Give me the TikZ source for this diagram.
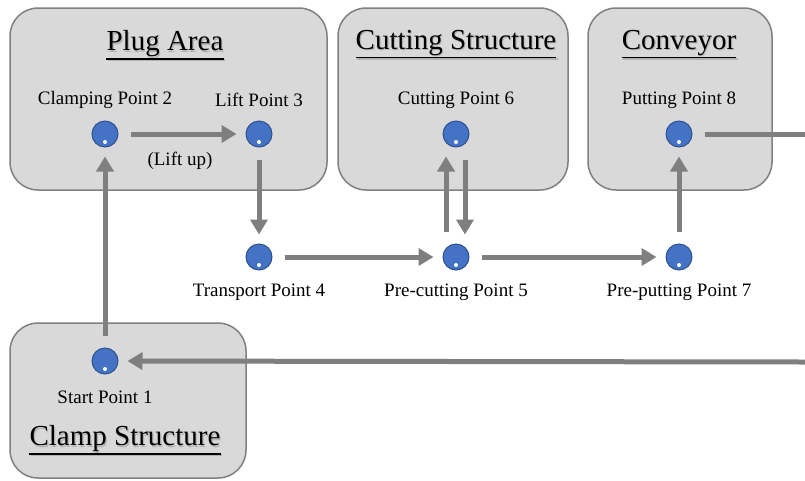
\documentclass[tikz,border=0pt]{standalone}
\usepackage{fontspec}
\setmainfont{Liberation Serif}
\usetikzlibrary{arrows.meta}
\definecolor{boxfill}{HTML}{D9D9D9}
\definecolor{boxline}{HTML}{808080}
\definecolor{flowgray}{HTML}{7F7F7F}
\definecolor{dotblue}{HTML}{4472C4}
\definecolor{dotedge}{HTML}{2F528F}
\newcommand{\areatitle}[3]{%
  \node[text=black!30] at ([xshift=1.2pt,yshift=-1.2pt]#2) {#3};
  \node (#1) at (#2) {#3};
  \draw[black!30, line width=1.8pt] ([xshift=1.2pt,yshift=-9.2pt]#1.base west) -- ([xshift=1.2pt,yshift=-9.2pt]#1.base east);
  \draw[black, line width=1.8pt] ([yshift=-8pt]#1.base west) -- ([yshift=-8pt]#1.base east);}
\begin{document}
\begin{tikzpicture}[x=1pt, y=-1pt,
    area/.style={draw=boxline, line width=1.5pt, fill=boxfill, rounded corners=28pt},
    station/.style={circle, draw=dotedge, line width=1pt, fill=dotblue, minimum size=26pt, inner sep=0pt,
      path picture={\fill[white] ([yshift=-8pt]path picture bounding box.center) circle (2pt);}},
    flow/.style={draw=flowgray, line width=5pt, -{Triangle[length=15pt,width=17pt]}, shorten >=9pt, shorten <=12pt},
    every node/.style={font=\fontsize{19}{21}\selectfont},
    title/.style={font=\fontsize{29}{31}\selectfont, inner xsep=0pt}]
    \useasboundingbox (0,0) rectangle (805,480);
    \draw[area] (10,8) rectangle (327,190);
    \draw[area] (338,8) rectangle (568,190);
    \draw[area] (588,8) rectangle (772,190);
    \draw[area] (10,323) rectangle (246,478);
    \begin{scope}[every node/.style={title}]
        \areatitle{tplug}{165,44}{Plug Area}
        \areatitle{tcut}{456,43}{Cutting Structure}
        \areatitle{tconv}{679,43}{Conveyor}
        \areatitle{tclamp}{125,439}{Clamp Structure}
    \end{scope}
    \node[station] (p1) at (105,361) {};
    \node[station] (p2) at (105,134) {};
    \node[station] (p3) at (259,134) {};
    \node[station] (p4) at (259,257) {};
    \node[station] (p5) at (456,257) {};
    \node[station] (p6) at (456,134) {};
    \node[station] (p7) at (679,257) {};
    \node[station] (p8) at (679,134) {};
    \node (l1) at (105,397) {Start Point 1};
    \node (l2) at (105,100) {Clamping Point 2};
    \node (l3) at (259,100) {Lift Point 3};
    \node (l4) at (259,292) {Transport Point 4};
    \node (l5) at (456,292) {Pre-cutting Point 5};
    \node (l6) at (456,100) {Cutting Point 6};
    \node (l7) at (679,292) {Pre-putting Point 7};
    \node (l8) at (679,100) {Putting Point 8};
    \node (lift) at (180,161) {(Lift up)};
    \coordinate (out8) at (805,134);
    \coordinate (back1) at (805,362);
    \draw[flow] (p1) -- (p2);
    \draw[flow] (p2) -- (p3);
    \draw[flow] (p3) -- (p4);
    \draw[flow] (p4) -- (p5);
    \draw[flow] ([xshift=-10pt]p5.north) -- ([xshift=-10pt]p6.south);
    \draw[flow] ([xshift=9pt]p6.south) -- ([xshift=9pt]p5.north);
    \draw[flow] (p5) -- (p7);
    \draw[flow] (p7) -- (p8);
    \draw[flow, -, shorten >=0pt] (p8) -- (out8);
    \draw[flow, shorten <=0pt] (back1) -- (p1);
\end{tikzpicture}
\end{document}
